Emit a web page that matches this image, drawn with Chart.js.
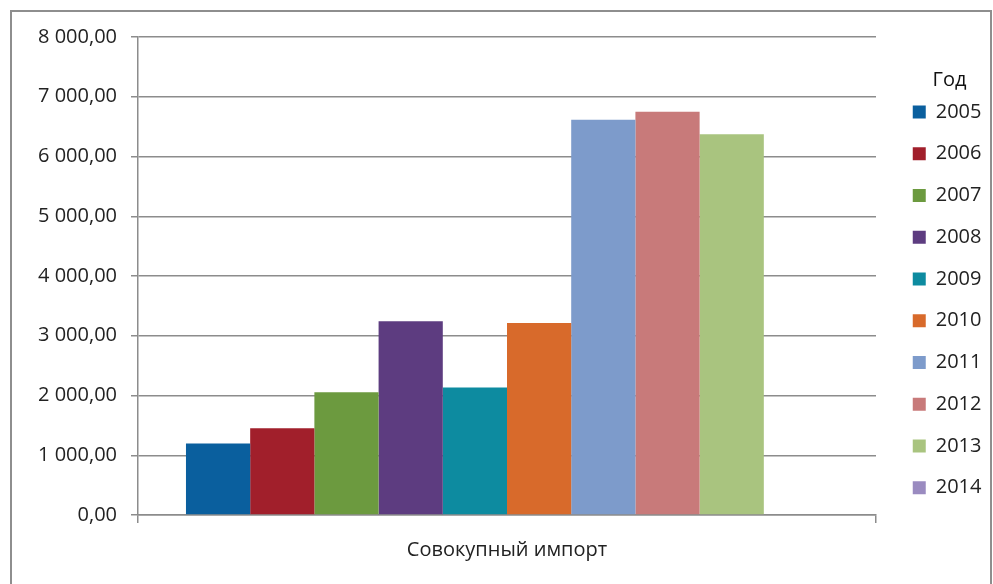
<!DOCTYPE html>
<html>
<head>
<meta charset="utf-8">
<script src="https://cdn.jsdelivr.net/npm/chart.js@4/dist/chart.umd.min.js"></script>
<style>
  html, body { margin: 0; padding: 0; background: #ffffff; overflow: hidden; }
  #wrap { position: relative; width: 993px; height: 584px; }
  #frame { position: absolute; left: 10px; top: 10px; width: 978px; height: 600px;
           border: 2px solid #8e8e8e; border-bottom: none; pointer-events: none; }
  canvas { position: absolute; left: 0; top: 0; }
</style>
</head>
<body>
<div id="wrap">
  <canvas id="c" width="993" height="584"></canvas>
  <div id="frame"></div>
</div>
<script>
// ---- data ----
const categories = ['Совокупный импорт'];
const years = ['2005', '2006', '2007', '2008', '2009', '2010', '2011', '2012', '2013', '2014'];
const importValues = [1198, 1452, 2056, 3241, 2134, 3214, 6613, 6749, 6372, null];
const yearColors = ['#0a5f9e', '#a11f2b', '#6c9a3f', '#5d3c80', '#0d8ba0', '#d86a2b',
                    '#7d9bcb', '#c87a7a', '#a9c47f', '#9a8bc0'];
const legendTitle = 'Год';
const yTicksMin = 0, yTicksMax = 8000, yStep = 1000;

const FONT = "'Open Sans', 'Liberation Sans', sans-serif";
const TEXT = '#222222';
const GRID = '#8c8c8c';

function fmt(v) {
  const s = Math.abs(v).toFixed(2).split('.');
  const int = s[0].replace(/\B(?=(\d{3})+(?!\d))/g, ' ');
  return (v < 0 ? '-' : '') + int + ',' + s[1];
}

const datasets = years.map((y, i) => ({
  label: y,
  data: [importValues[i]],
  backgroundColor: yearColors[i],
  borderWidth: 0
}));

const legendTweak = {
  id: 'legendTweak',
  beforeInit(chart) {
    const lg = chart.legend;
    if (!lg) return;
    const orig = lg.fit;
    lg.fit = function () { orig.call(this); this.width = 117; };
  },
  afterLayout(chart) {
    const lg = chart.legend;
    if (!lg) return;
    lg.left = 891;
    lg.width = 117;
    lg.right = lg.left + lg.width;
  }
};

new Chart(document.getElementById('c'), {
  type: 'bar',
  data: { labels: categories, datasets },
  plugins: [legendTweak],
  options: {
    responsive: false,
    animation: false,
    layout: { padding: { top: 37, right: 0, bottom: 0, left: 0 } },
    datasets: { bar: { categoryPercentage: 0.87, barPercentage: 1.0 } },
    scales: {
      x: {
        offset: true,
        grid: { drawOnChartArea: false, drawTicks: true, tickLength: 8, color: GRID, lineWidth: 1.5, offset: true },
        border: { display: true, color: GRID, width: 1.5 },
        ticks: { color: TEXT, font: { family: FONT, size: 20 }, padding: 15 },
        afterFit(scale) { scale.height = 69; }
      },
      y: {
        min: yTicksMin, max: yTicksMax,
        grid: { color: GRID, lineWidth: 1.5, tickLength: 7, drawTicks: true },
        border: { display: true, color: GRID, width: 1.5 },
        ticks: { stepSize: yStep, color: TEXT, font: { family: FONT, size: 20 }, padding: 14,
                 callback: (v) => fmt(v) },
        afterFit(scale) { scale.width = 138; }
      }
    },
    plugins: {
      tooltip: { enabled: false },
      legend: {
        position: 'right',
        align: 'start',
        title: { display: true, text: legendTitle, color: '#111111', position: 'center',
                 font: { family: FONT, size: 20 }, padding: { top: 33, bottom: -13.75 } },
        labels: { color: TEXT, font: { family: FONT, size: 20 }, boxWidth: 13, boxHeight: 13, padding: 21.75 }
      }
    }
  }
});
</script>
</body>
</html>
